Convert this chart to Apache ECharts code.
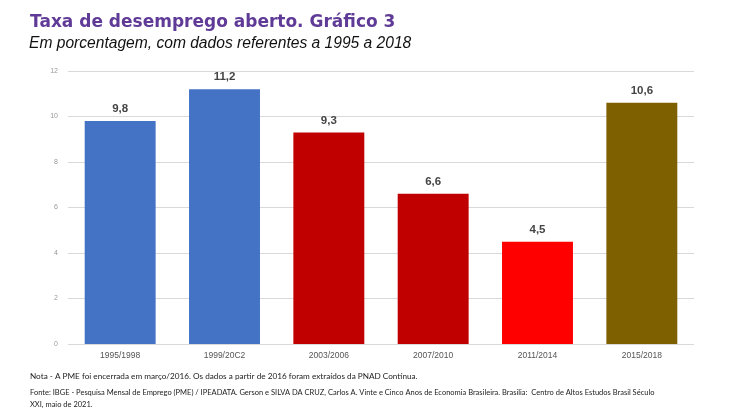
<!DOCTYPE html>
<html><head><meta charset="utf-8">
<script src="https://cdn.jsdelivr.net/npm/echarts@6/dist/echarts.min.js"></script>
<style>html,body{margin:0;padding:0;background:#fff}#c{width:737px;height:416px}</style>
</head><body><div id="c"></div>
<script>
const categories = ['1995/1998','1999/20C2','2003/2006','2007/2010','2011/2014','2015/2018'];
const values = [9.8, 11.2, 9.3, 6.6, 4.5, 10.6];
const barColors = ['#4472C4','#4472C4','#C00000','#C00000','#FF0000','#7F6000'];
const yTicks = [0, 2, 4, 6, 8, 10, 12];

const chart = echarts.init(document.getElementById('c'));
chart.setOption({
  animation: false,
  backgroundColor: '#ffffff',
  title: [
    {text: 'Taxa de desemprego aberto. Gráfico 3', left: 30, top: 14, padding: 0,
     textStyle: {fontFamily: 'DejaVu Sans', fontWeight: 'bold', fontSize: 17, color: '#5F3B97'}},
    {text: 'Em porcentagem, com dados referentes a 1995 a 2018', left: 29, top: 36, padding: 0,
     textStyle: {fontFamily: 'Liberation Sans', fontStyle: 'italic', fontWeight: 'normal', fontSize: 15.6, color: '#111'}},
    {text: 'Nota - A PME foi encerrada em março/2016. Os dados a partir de 2016 foram extraídos da PNAD Contínua.', left: 30, top: 372, padding: 0,
     textStyle: {fontFamily: 'Lato', fontWeight: 'normal', fontSize: 8.2, color: '#222'}},
    {text: 'Fonte: IBGE - Pesquisa Mensal de Emprego (PME) / IPEADATA. Gerson e SILVA DA CRUZ, Carlos A. Vinte e Cinco Anos de Economia Brasileira. Brasilia:  Centro de Altos Estudos Brasil Século\nXXI, maio de 2021.', left: 30, top: 387, padding: 0,
     textStyle: {fontFamily: 'Lato', fontWeight: 'normal', fontSize: 7.5, lineHeight: 12, color: '#222'}}
  ],
  grid: {left: 68, right: 43, top: 71, bottom: 72},
  xAxis: {
    type: 'category', data: categories,
    axisLine: {show: false}, axisTick: {show: false},
    axisLabel: {color: '#555', fontSize: 8.5, fontFamily: 'Liberation Sans', margin: 7}
  },
  yAxis: {
    type: 'value', min: 0, max: 12, interval: 2,
    axisLine: {show: false}, axisTick: {show: false},
    axisLabel: {color: '#999', fontSize: 7, fontFamily: 'Liberation Sans', margin: 10,
      formatter: v => yTicks.includes(v) ? String(v) : ''},
    splitLine: {lineStyle: {color: '#d9d9d9', width: 1}}
  },
  series: [{
    type: 'bar', barWidth: '68%',
    data: values.map((v, i) => ({value: v, itemStyle: {color: barColors[i]}})),
    label: {show: true, position: 'top', distance: 6, color: '#444', fontSize: 11.5, fontWeight: 'bold',
      fontFamily: 'Liberation Sans', formatter: p => String(p.value).replace('.', ',')}
  }]
});
</script></body></html>
